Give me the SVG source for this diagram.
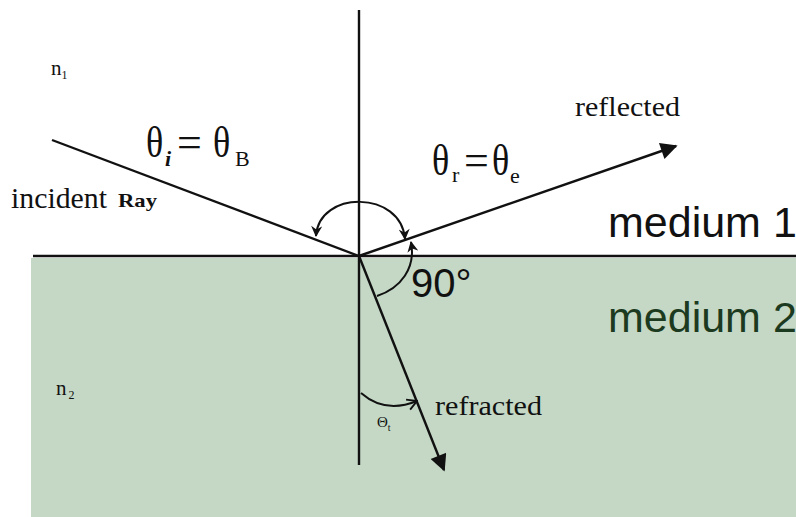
<svg xmlns="http://www.w3.org/2000/svg" width="796" height="517" viewBox="0 0 796 517">
<style>
.ray{stroke:#111;stroke-width:2.4;fill:none}
.arc{stroke:#111;stroke-width:2;fill:none}
.serif{font-family:"Liberation Serif","Times New Roman",serif;fill:#111}
.sans{font-family:"Liberation Sans",Arial,sans-serif}
.th{font-family:"Liberation Serif","Times New Roman",serif;fill:#111;font-size:45px}
</style>
<defs>
<marker id="big" viewBox="0 0 10 10" refX="9" refY="5" markerWidth="9" markerHeight="7" markerUnits="strokeWidth" orient="auto"><path d="M0,0 L10,5 L0,10 Z" fill="#111"/></marker>
<marker id="small" viewBox="0 0 10 10" refX="9" refY="5" markerWidth="6.5" markerHeight="5.5" markerUnits="strokeWidth" orient="auto"><path d="M0,0 L10,5 L0,10 L3,5 Z" fill="#111"/></marker>
<marker id="smallStart" viewBox="0 0 10 10" refX="9" refY="5" markerWidth="6.5" markerHeight="5.5" markerUnits="strokeWidth" orient="auto-start-reverse"><path d="M0,0 L10,5 L0,10 L3,5 Z" fill="#111"/></marker>
<marker id="chev" viewBox="0 0 10 10" refX="9" refY="5" markerWidth="6" markerHeight="7" markerUnits="strokeWidth" orient="auto"><path d="M1,0.5 L9,5 L1,9.5" fill="none" stroke="#111" stroke-width="1.6"/></marker>
</defs>
<rect x="0" y="0" width="796" height="517" fill="#ffffff"/>
<rect id="medium2-region" x="31" y="258" width="765" height="259" fill="#c4d8c5"/>
<g id="connectors">
<line class="ray" x1="33" y1="256" x2="796" y2="256" stroke-width="2"/>
<line class="ray" x1="359" y1="10" x2="359" y2="465"/>
<line id="incident" class="ray" x1="52" y1="140" x2="359" y2="256"/>
<line id="reflected" class="ray" x1="359" y1="256" x2="676" y2="146" marker-end="url(#big)"/>
<line id="refracted" class="ray" x1="359" y1="256" x2="444" y2="470" marker-end="url(#big)"/>
<path id="arc-top" class="arc" d="M 316 236 C 319 190, 401 190, 405 239" marker-start="url(#smallStart)" marker-end="url(#small)"/>
<path id="arc-90" class="arc" d="M 377 296 C 401 288, 416 268, 411 242" marker-end="url(#small)"/>
<path id="arc-t" class="arc" d="M 361 393 Q 385 414, 417 401" marker-end="url(#chev)"/>
</g>
<g id="labels">
<text class="serif" x="51" y="75" font-size="21">n<tspan font-size="12" dy="4">1</tspan></text>
<text class="serif" x="56" y="395" font-size="21">n<tspan font-size="12" dx="2" dy="4">2</tspan></text>
<text class="serif" x="11" y="208" font-size="30" textLength="96" lengthAdjust="spacingAndGlyphs">incident</text>
<text class="serif" x="118" y="207" font-size="19" font-weight="bold" textLength="39" lengthAdjust="spacingAndGlyphs">Ray</text>
<text class="th" transform="translate(146,157) scale(0.8,1)">θ</text>
<text class="serif" x="165" y="166" font-size="22" font-style="italic" font-weight="bold">i</text>
<text class="serif" x="177" y="157" font-size="44">=</text>
<text class="th" transform="translate(213,157) scale(0.8,1)">θ</text>
<text class="serif" x="235" y="166" font-size="22">B</text>
<text class="th" transform="translate(432,175) scale(0.8,1)">θ</text>
<text class="serif" x="452" y="182" font-size="22">r</text>
<text class="serif" x="464" y="175" font-size="44">=</text>
<text class="th" transform="translate(492,175) scale(0.8,1)">θ</text>
<text class="serif" x="510" y="183" font-size="22">e</text>
<text class="serif" x="575" y="116" font-size="28" textLength="105" lengthAdjust="spacingAndGlyphs">reflected</text>
<text class="serif" x="435" y="415" font-size="28" textLength="107" lengthAdjust="spacingAndGlyphs">refracted</text>
<text class="serif" x="377" y="427" font-size="15">Θ<tspan font-size="10" dy="4">t</tspan></text>
<text class="sans" x="608" y="237" font-size="43" fill="#111">medium 1</text>
<text class="sans" x="608" y="332" font-size="43" fill="#1c3a20">medium 2</text>
<text class="sans" x="411" y="297" font-size="40" fill="#111">90°</text>
</g>
</svg>
